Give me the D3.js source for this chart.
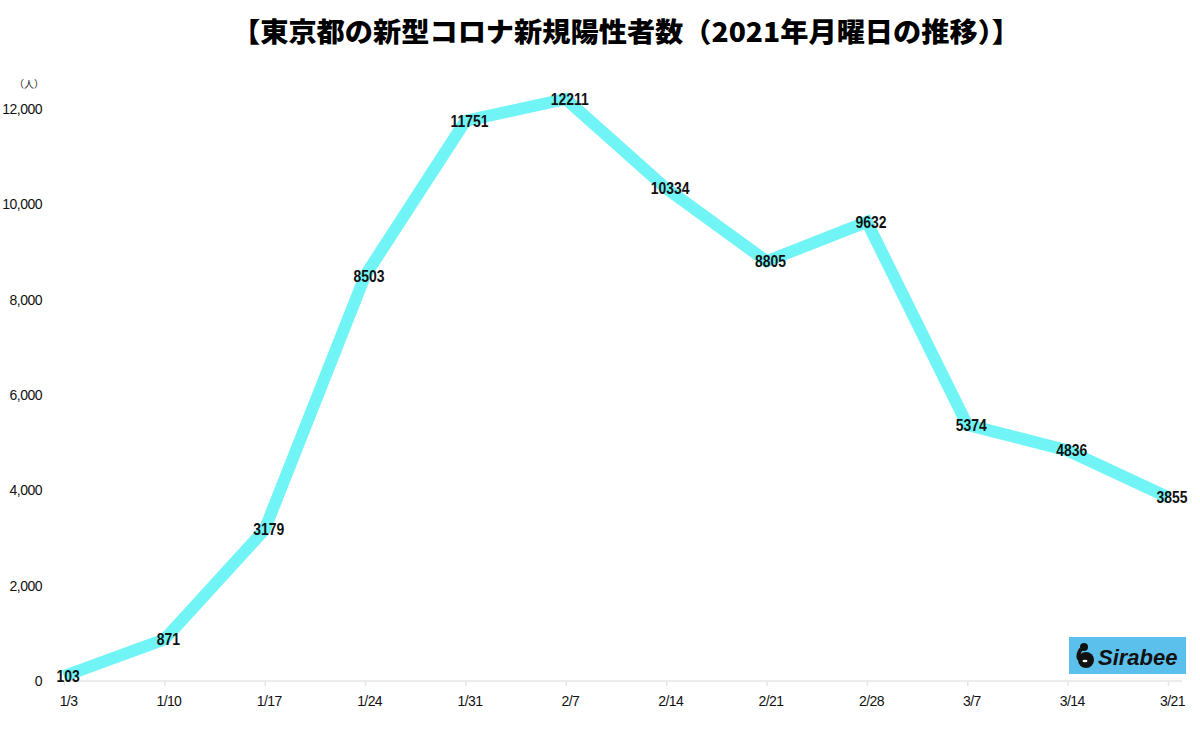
<!DOCTYPE html>
<html><head><meta charset="utf-8">
<script src="https://cdn.jsdelivr.net/npm/d3@7"></script>
<style>body{margin:0;background:#fff;} svg{display:block;}</style>
</head><body>
<script>
const categories = ["1/3","1/10","1/17","1/24","1/31","2/7","2/14","2/21","2/28","3/7","3/14","3/21"];
const values = [103,871,3179,8503,11751,12211,10334,8805,9632,5374,4836,3855];
const yTicks = [0,2000,4000,6000,8000,10000,12000];
const title = "【東京都の新型コロナ新規陽性者数（2021年月曜日の推移）】";

const W = 1200, H = 732;
const svg = d3.select("body").append("svg").attr("width", W).attr("height", H);

const x = d3.scalePoint().domain(categories).range([64, 1168]);
const y = d3.scaleLinear().domain([0, 12000]).range([681, 109]);

// title
svg.append("text").attr("x", 626).attr("y", 42).attr("text-anchor", "middle")
  .attr("font-family", "'Noto Sans CJK JP', sans-serif").attr("font-weight", 900)
  .attr("font-size", 27).attr("fill", "#000")
  .attr("textLength", 788).attr("lengthAdjust", "spacingAndGlyphs").text(title);

// unit
svg.append("text").attr("x", 29).attr("y", 88).attr("text-anchor", "middle")
  .attr("font-family", "'Noto Sans CJK JP', sans-serif").attr("font-size", 10).attr("fill", "#222").text("（人）");

// y axis labels
const yAxis = d3.axisLeft(y).tickValues(yTicks).tickSize(0).tickPadding(0)
  .tickFormat(d => d3.format(",")(d));
const gy = svg.append("g").attr("transform", "translate(42,0)").call(yAxis);
gy.select(".domain").remove();
gy.selectAll("text").attr("font-family", "'Liberation Sans', Arial, sans-serif").attr("font-size", 14).attr("fill", "#111").attr("letter-spacing", "-0.5px");

// x axis
const xAxis = d3.axisBottom(x).tickSize(5).tickPadding(10);
const gx = svg.append("g").attr("transform", "translate(0,681)").call(xAxis);
gx.select(".domain").attr("d", "M58,0H1182").attr("stroke", "#e6e6e6").attr("stroke-width", 1.5);
gx.selectAll(".tick line").attr("stroke", "#e6e6e6").attr("stroke-width", 1.5);
gx.selectAll(".tick text").attr("font-family", "'Liberation Sans', Arial, sans-serif").attr("font-size", 14).attr("fill", "#111")
  .attr("dx", 4).attr("letter-spacing", "-0.6px");

// line
const line = d3.line().x((d, i) => x(categories[i])).y(d => y(d));
svg.append("path").datum(values).attr("d", line).attr("fill", "none")
  .attr("stroke", "#70f4f6").attr("stroke-width", 12).attr("stroke-linejoin", "miter").attr("stroke-linecap", "butt");

// labels
svg.append("g").selectAll("text").data(values).join("text")
  .attr("transform", (d, i) => `translate(${x(categories[i]) + 4},${y(d) + 6}) scale(0.82,1)`)
  .attr("text-anchor", "middle")
  .attr("font-family", "'Liberation Sans', Arial, sans-serif")
  .attr("font-weight", "bold").attr("font-size", 17).attr("fill", "#111")
  .text(d => d);

// logo
const logo = svg.append("g").attr("transform", "translate(1069,637)");
logo.append("rect").attr("width", 117).attr("height", 37).attr("fill", "#5cc0ec");
logo.append("circle").attr("cx", 17).attr("cy", 23).attr("r", 8).attr("fill", "#111");
logo.append("circle").attr("cx", 15).attr("cy", 10).attr("r", 4).attr("fill", "#111");
logo.append("path").attr("d", "M12,12 Q8,18 10,22").attr("stroke", "#111").attr("stroke-width", 4).attr("fill", "none");
logo.append("ellipse").attr("cx", 16).attr("cy", 24).attr("rx", 2.5).attr("ry", 1.3).attr("fill", "#fff");
logo.append("text").attr("x", 29).attr("y", 28).attr("font-family", "'Liberation Sans', Arial, sans-serif")
  .attr("font-weight", "bold").attr("font-style", "italic").attr("font-size", 22).attr("fill", "#111").text("Sirabee");
</script>
</body></html>
